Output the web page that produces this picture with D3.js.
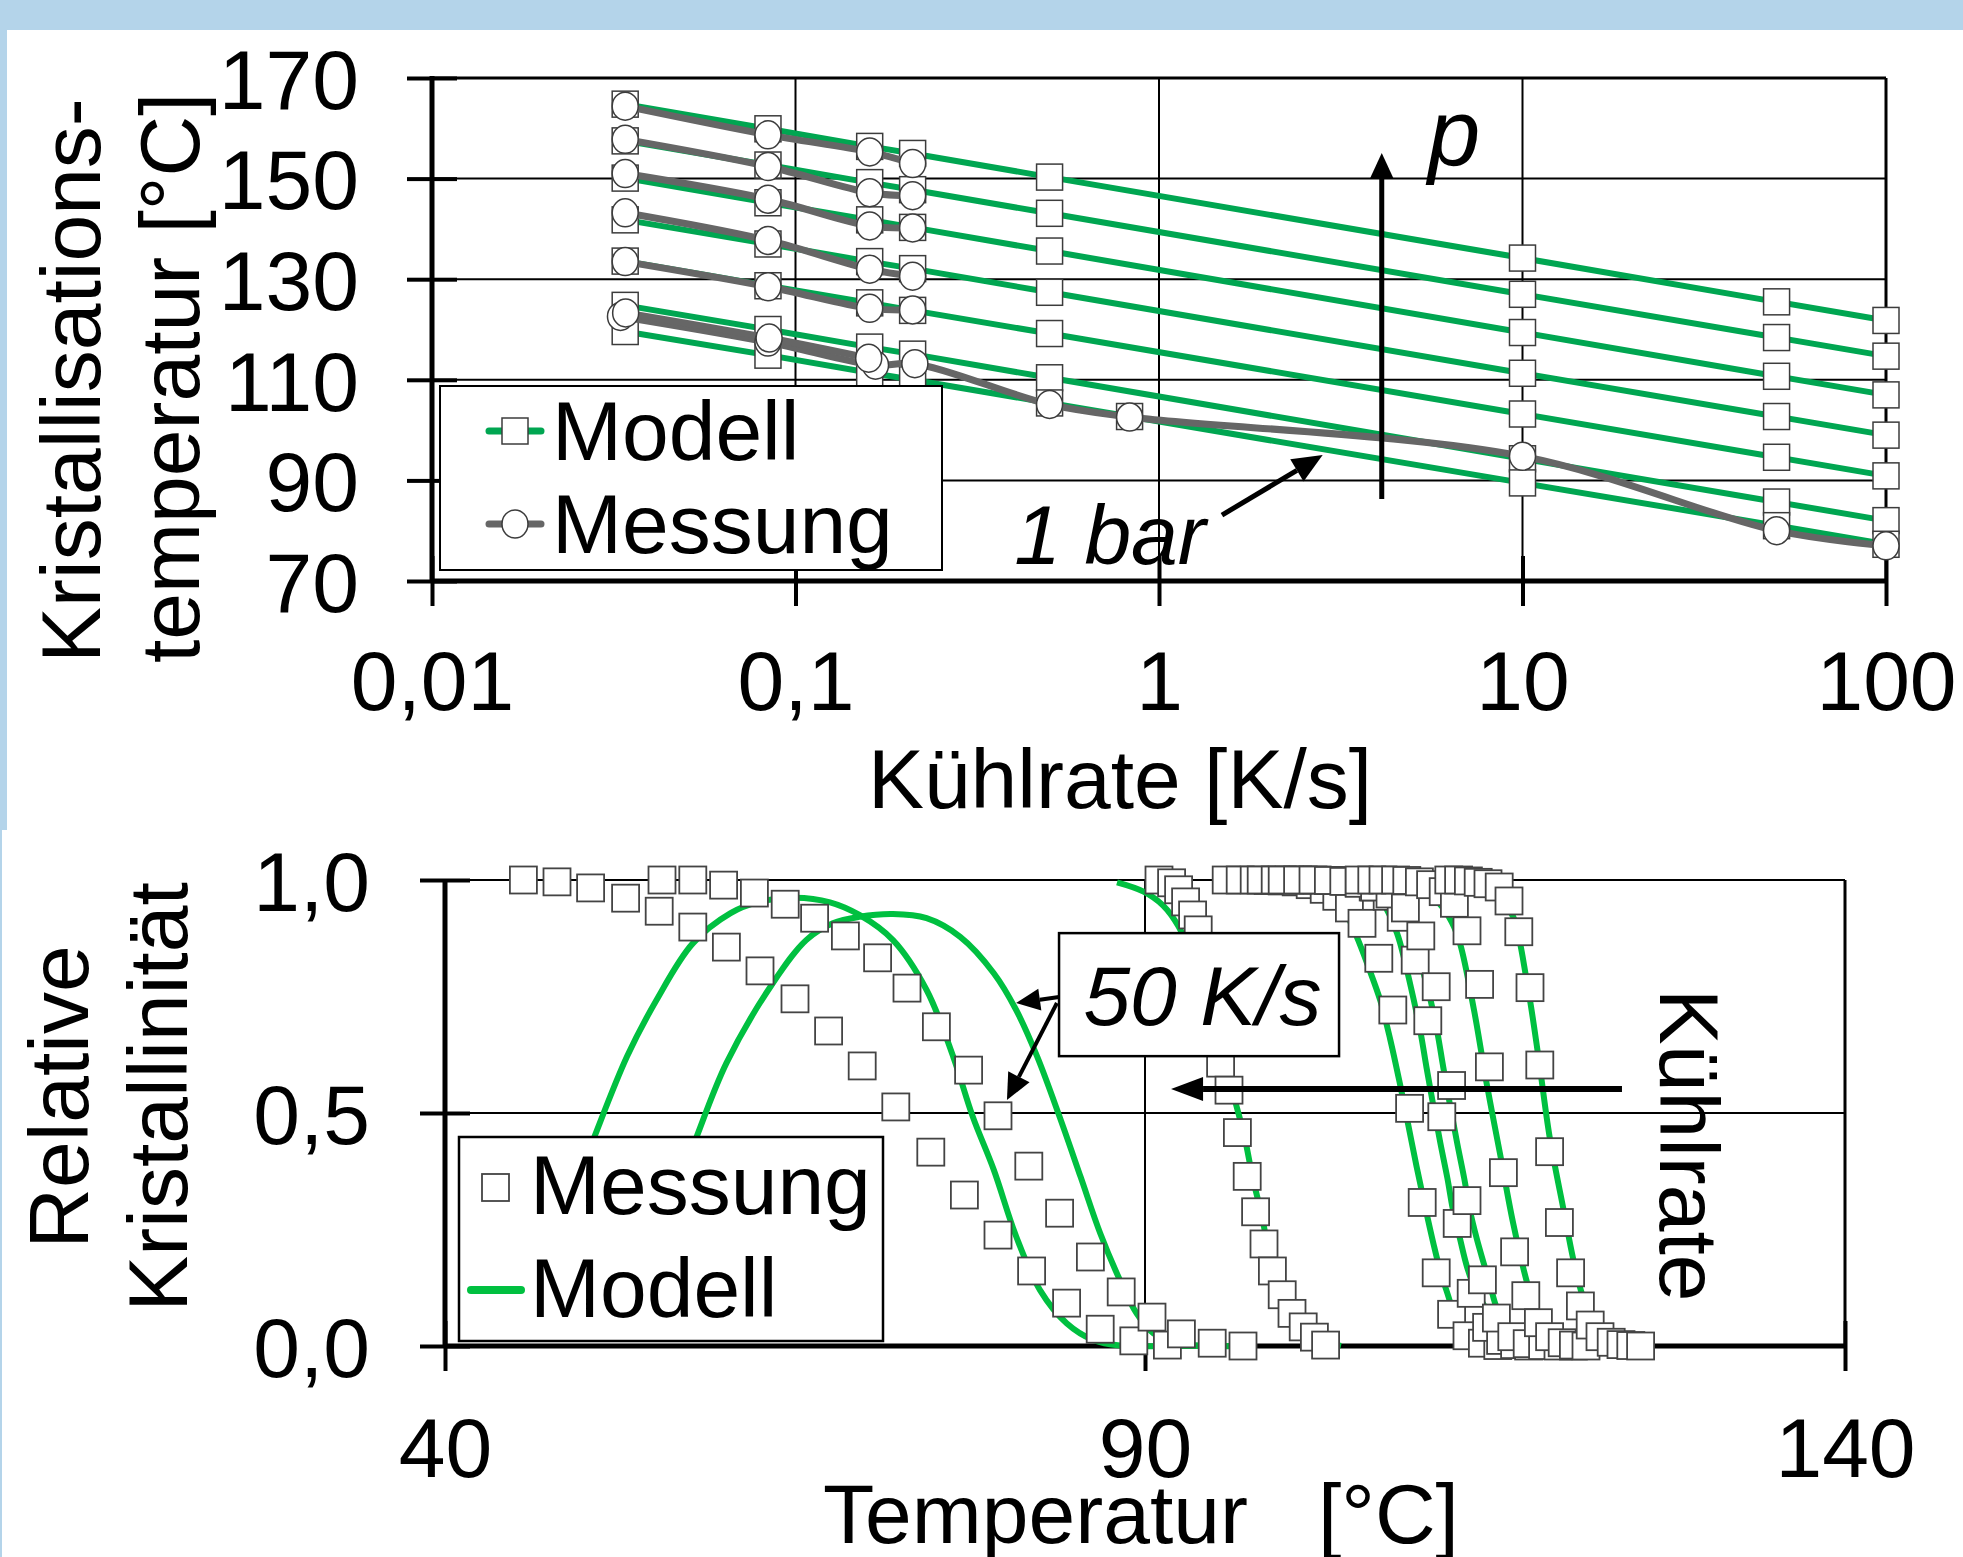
<!DOCTYPE html>
<html>
<head>
<meta charset="utf-8">
<script src="https://cdn.jsdelivr.net/npm/d3@7"></script>
<style>
body { margin: 0; background: #fff; }
text { font-family: "Liberation Sans", Arial, sans-serif; font-size: 84px; fill: #000; }
</style>
</head>
<body>
<div id="chart"></div>
<script>
// ---------- upper chart: Kühlrate vs. Kristallisationstemperatur ----------
var rateTicks = [0.01, 0.1, 1, 10, 100];
var rateLabels = ["0,01", "0,1", "1", "10", "100"];
var tcTicks = [70, 90, 110, 130, 150, 170];

// model lines, one per pressure (top = highest p)
var modelRates = [0.034, 0.084, 0.16, 0.21, 0.5, 10, 50, 100];
var modelP6 = [164.8, 159.9, 156.4, 155.0, 150.3, 134.2, 125.5, 121.8];
var modelP5 = [157.5, 152.7, 149.2, 147.8, 143.1, 127.0, 118.4, 114.7];
var modelP4 = [150.1, 145.2, 141.8, 140.3, 135.6, 119.4, 110.7, 107.0];
var modelP3 = [141.8, 137.0, 133.5, 132.1, 127.4, 111.3, 102.7, 99.0];
var modelP2 = [133.6, 128.7, 125.3, 123.8, 119.2, 103.2, 94.6, 90.9];
var modelP1 = [124.8, 120.0, 116.5, 115.1, 110.4, 94.3, 85.7, 82.0];
var model1barRates = [0.034, 0.084, 0.16, 0.21, 0.5, 0.83, 10, 50, 100];
var model1bar = [119.6, 114.9, 111.4, 110.0, 105.4, 102.7, 89.5, 81.0, 77.3];

// measurements
var messRates = [0.034, 0.084, 0.16, 0.21];
var messP6 = [164.4, 158.7, 155.3, 153.0];
var messP5 = [157.8, 152.4, 147.2, 146.6];
var messP4 = [151.0, 145.9, 140.6, 140.2];
var messP3 = [143.2, 137.7, 132.0, 130.6];
var messP2 = [133.5, 128.5, 124.2, 123.9];
var mess1barRates = [0.033, 0.084, 0.166, 0.213, 0.5, 0.83, 10, 50, 100];
var mess1bar = [122.6, 117.5, 112.9, 113.2, 105.1, 102.6, 94.8, 80.0, 77.0];
var mess1barRepRates = [0.0341, 0.0846, 0.159];
var mess1barRep = [123.3, 118.3, 114.3];

// ---------- lower chart: Temperatur vs. relative Kristallinität ----------
var tempTicks = [40, 90, 140];
var relTicks = [0, 0.5, 1];
var relLabels = ["0,0", "0,5", "1,0"];

var messA = [[45.6,1.0],[48.0,0.996],[50.4,0.983],[52.9,0.961],[55.3,0.933],[57.7,0.899],[60.1,0.856],[62.5,0.805],[65.0,0.745],[67.4,0.676],[69.8,0.601],[72.2,0.513],[74.7,0.416],[77.1,0.324],[79.5,0.238],[81.9,0.161],[84.4,0.092],[86.8,0.036],[89.2,0.011],[91.6,0.002]];
var messB = [[55.5,1.0],[57.7,1.0],[59.9,0.989],[62.1,0.972],[64.3,0.948],[66.4,0.918],[68.6,0.880],[70.9,0.833],[73.0,0.768],[75.1,0.685],[77.4,0.592],[79.5,0.494],[81.7,0.386],[83.9,0.285],[86.1,0.191],[88.3,0.116],[90.5,0.062],[92.6,0.026],[94.8,0.006],[97.0,0.0]];
var messC = [[91.0,1.0],[91.9,0.994],[92.4,0.979],[92.9,0.953],[93.4,0.925],[93.8,0.893],[94.3,0.82],[94.9,0.72],[95.4,0.607],[96.0,0.549],[96.6,0.458],[97.3,0.364],[97.9,0.288],[98.5,0.219],[99.1,0.161],[99.8,0.110],[100.5,0.070],[101.3,0.041],[102.1,0.019],[102.9,0.002]];
var messD = [[95.8,1.0],[96.8,1.0],[97.8,1.0],[98.8,0.999],[99.8,0.998],[100.8,0.996],[101.8,0.99],[102.8,0.98],[103.7,0.965],[104.6,0.94],[105.5,0.907],[106.7,0.832],[107.7,0.721],[108.9,0.510],[109.8,0.308],[110.8,0.157],[111.9,0.068],[113.0,0.022],[114.1,0.006],[115.2,0.001]];
var messE = [[98.3,1.0],[99.3,1.0],[100.3,1.0],[101.3,1.0],[102.3,1.0],[103.3,0.999],[104.3,0.998],[105.3,0.994],[106.3,0.985],[107.3,0.965],[108.3,0.92],[109.3,0.828],[110.2,0.698],[111.2,0.492],[112.3,0.263],[113.3,0.113],[114.4,0.04],[115.4,0.012],[116.4,0.003],[117.4,0.0]];
var messF = [[99.8,1.0],[100.9,1.0],[102.0,1.0],[103.1,0.999],[104.2,0.997],[105.3,0.993],[106.4,0.985],[107.5,0.97],[108.6,0.94],[109.7,0.88],[110.8,0.771],[111.9,0.559],[113.0,0.312],[114.1,0.142],[115.1,0.06],[116.2,0.02],[117.3,0.005],[118.4,0.001],[119.5,0.0],[120.6,0.0]];
var messG = [[105.3,1.0],[106.2,1.0],[107.0,1.0],[107.9,1.0],[108.7,0.999],[109.6,0.996],[110.4,0.99],[111.3,0.975],[112.1,0.95],[113.0,0.891],[113.9,0.776],[114.6,0.599],[115.6,0.372],[116.4,0.202],[117.2,0.108],[118.1,0.05],[118.9,0.02],[119.8,0.007],[120.6,0.002],[121.5,0.0]];
var messH = [[111.7,1.0],[112.4,1.0],[113.1,0.998],[113.8,0.995],[114.5,0.992],[115.3,0.985],[116.0,0.955],[116.7,0.889],[117.5,0.769],[118.2,0.603],[118.9,0.417],[119.6,0.265],[120.4,0.157],[121.1,0.086],[121.8,0.045],[122.5,0.02],[123.3,0.008],[124.0,0.003],[124.7,0.001],[125.4,0.0]];

var modelA = [[50.3,0.42],[50.7,0.451],[53.0,0.621],[55.1,0.742],[57.7,0.864],[60.4,0.929],[62.3,0.952],[65.0,0.962],[67.5,0.952],[69.6,0.925],[72.0,0.871],[74.4,0.764],[76.3,0.621],[77.7,0.492],[79.2,0.378],[80.8,0.235],[82.5,0.120],[84.4,0.049],[86.3,0.013],[88.2,0.001],[92.0,0.0],[96.0,0.0]];
var modelB = [[57.6,0.42],[58.0,0.451],[60.1,0.607],[63.4,0.778],[65.8,0.871],[67.7,0.907],[69.6,0.921],[72.0,0.927],[74.4,0.918],[76.8,0.878],[79.2,0.800],[80.8,0.721],[82.3,0.621],[83.9,0.492],[85.4,0.363],[86.8,0.242],[88.2,0.142],[89.4,0.070],[90.6,0.027],[92.3,0.006],[94.6,0.0],[96.5,0.0]];
var modelC = [[88.0,0.995],[89.9,0.975],[91.3,0.945],[92.4,0.90],[93.4,0.83],[94.3,0.75],[95.1,0.67],[95.9,0.59],[96.4,0.53],[97.1,0.45],[97.7,0.36],[98.3,0.285],[98.9,0.20],[99.9,0.11],[101.1,0.048],[102.7,0.013],[104.0,0.0]];
var modelD = [[102.0,0.998],[103.0,0.985],[104.0,0.95],[105.1,0.88],[106.0,0.81],[106.8,0.742],[107.5,0.66],[108.2,0.564],[108.8,0.475],[109.4,0.385],[110.0,0.30],[110.6,0.220],[111.1,0.16],[111.6,0.113],[112.2,0.06],[113.0,0.02],[114.0,0.003]];
var modelE = [[104.5,0.998],[105.8,0.985],[107.0,0.95],[108.0,0.886],[108.6,0.82],[109.2,0.742],[109.7,0.67],[110.1,0.599],[110.6,0.515],[111.1,0.435],[111.6,0.36],[112.0,0.292],[112.5,0.23],[113.0,0.170],[113.6,0.12],[114.2,0.088],[115.0,0.045],[116.0,0.015],[117.0,0.003]];
var modelF = [[105.5,0.998],[106.8,0.985],[108.2,0.94],[109.4,0.857],[109.9,0.80],[110.4,0.742],[110.9,0.67],[111.3,0.599],[111.8,0.515],[112.3,0.435],[112.8,0.36],[113.2,0.292],[113.7,0.23],[114.2,0.177],[114.7,0.125],[115.1,0.084],[115.9,0.04],[116.8,0.012],[118.0,0.002]];
var modelG = [[108.0,0.998],[109.5,0.985],[111.0,0.95],[111.9,0.91],[112.5,0.864],[113.5,0.721],[114.4,0.564],[115.4,0.406],[116.3,0.263],[117.3,0.135],[118.0,0.07],[118.8,0.03],[119.8,0.008],[121.0,0.0]];
var modelH = [[111.5,0.998],[113.0,0.99],[114.6,0.97],[115.6,0.95],[116.3,0.921],[117.3,0.778],[118.1,0.621],[118.9,0.449],[119.9,0.292],[120.6,0.185],[121.2,0.113],[121.9,0.06],[122.8,0.025],[124.0,0.005],[125.5,0.0]];

var blue = "#b4d4ea";
var greenTop = "#00a651";
var greenBottom = "#00c040";
var grayLine = "#666666";
var markStroke = "#3c3c3c";

var W = 1963, H = 1557;
var svg = d3.select("#chart").append("svg")
  .attr("width", W)
  .attr("height", H);

// light blue slide frame
svg.append("rect").attr("width", W).attr("height", H).attr("fill", "#fff");
svg.append("rect").attr("width", W).attr("height", 30).attr("fill", blue);
svg.append("rect").attr("width", 7).attr("height", 830).attr("fill", blue);
svg.append("rect").attr("y", 830).attr("width", 2).attr("height", H - 830).attr("fill", blue);

function arrow(g, xa, ya, xb, yb, w, len, half) {
  var a = Math.atan2(yb - ya, xb - xa);
  var bx = xb - len * Math.cos(a), by = yb - len * Math.sin(a);
  var px = -Math.sin(a) * half, py = Math.cos(a) * half;
  g.append("line")
    .attr("x1", xa).attr("y1", ya).attr("x2", bx).attr("y2", by)
    .attr("stroke", "#000").attr("stroke-width", w);
  g.append("path")
    .attr("d", "M" + xb + "," + yb + "L" + (bx + px) + "," + (by + py) + "L" + (bx - px) + "," + (by - py) + "Z")
    .attr("fill", "#000");
}

function styleTicks(sel) {
  sel.select(".domain").remove();
  sel.selectAll(".tick line").attr("stroke", "#000").attr("stroke-width", 4);
}

// =================== upper chart ===================
var x1 = d3.scaleLog().domain([0.01, 100]).range([432, 1886]);
var y1 = d3.scaleLinear().domain([70, 170]).range([581, 78]);
var gTop = svg.append("g");

// grid
gTop.selectAll(".hgrid").data(tcTicks.slice(1)).enter().append("line")
  .attr("x1", x1(0.01)).attr("x2", x1(100))
  .attr("y1", d => y1(d)).attr("y2", d => y1(d))
  .attr("stroke", "#000").attr("stroke-width", d => d === 170 ? 3 : 2);
gTop.selectAll(".vgrid").data(rateTicks.slice(1)).enter().append("line")
  .attr("x1", d => x1(d)).attr("x2", d => x1(d))
  .attr("y1", y1(170)).attr("y2", y1(70))
  .attr("stroke", "#000").attr("stroke-width", d => d === 100 ? 3 : 2);

// axes
var yAx1 = gTop.append("g").attr("transform", "translate(" + x1(0.01) + ",0)");
yAx1.call(d3.axisLeft(y1).tickValues(tcTicks).tickSize(25).tickPadding(48).tickFormat(d => d));
yAx1.call(styleTicks);
yAx1.selectAll(".tick text").attr("dy", "0.36em");
gTop.append("g").attr("transform", "translate(" + x1(0.01) + ",0)")
  .call(d3.axisRight(y1).tickValues(tcTicks).tickSize(25).tickFormat(""))
  .call(styleTicks);

var xAx1 = gTop.append("g").attr("transform", "translate(0," + y1(70) + ")");
xAx1.call(d3.axisBottom(x1).tickValues(rateTicks).tickSize(25).tickPadding(44).tickFormat((d, i) => rateLabels[i]));
xAx1.call(styleTicks);
gTop.append("g").attr("transform", "translate(0," + y1(70) + ")")
  .call(d3.axisTop(x1).tickValues(rateTicks).tickSize(25).tickFormat(""))
  .call(styleTicks);

gTop.append("line").attr("x1", x1(0.01)).attr("x2", x1(0.01)).attr("y1", y1(170) - 2).attr("y2", y1(70))
  .attr("stroke", "#000").attr("stroke-width", 5);
gTop.append("line").attr("x1", x1(0.01)).attr("x2", x1(100)).attr("y1", y1(70)).attr("y2", y1(70))
  .attr("stroke", "#000").attr("stroke-width", 5);

// series
var line1 = d3.line().x(d => x1(d[0])).y(d => y1(d[1]));
var smooth1 = d3.line().x(d => x1(d[0])).y(d => y1(d[1])).curve(d3.curveCatmullRom.alpha(0.5));

var models = [
  d3.zip(modelRates, modelP6), d3.zip(modelRates, modelP5), d3.zip(modelRates, modelP4),
  d3.zip(modelRates, modelP3), d3.zip(modelRates, modelP2), d3.zip(modelRates, modelP1),
  d3.zip(model1barRates, model1bar)
];
var messes = [
  d3.zip(messRates, messP6), d3.zip(messRates, messP5), d3.zip(messRates, messP4),
  d3.zip(messRates, messP3), d3.zip(messRates, messP2),
  d3.zip(mess1barRates, mess1bar), d3.zip(mess1barRepRates, mess1barRep)
];

models.forEach(function(s) {
  gTop.append("path").attr("d", line1(s))
    .attr("fill", "none").attr("stroke", greenTop).attr("stroke-width", 6);
});
models.forEach(function(s) {
  gTop.selectAll(null).data(s).enter().append("rect")
    .attr("x", d => x1(d[0]) - 13).attr("y", d => y1(d[1]) - 13)
    .attr("width", 26).attr("height", 26)
    .attr("fill", "#fff").attr("stroke", markStroke).attr("stroke-width", 1.5);
});
messes.forEach(function(s) {
  gTop.append("path").attr("d", smooth1(s))
    .attr("fill", "none").attr("stroke", grayLine).attr("stroke-width", 7);
});
messes.forEach(function(s) {
  gTop.selectAll(null).data(s).enter().append("ellipse")
    .attr("cx", d => x1(d[0])).attr("cy", d => y1(d[1]))
    .attr("rx", 13).attr("ry", 14)
    .attr("fill", "#fff").attr("stroke", markStroke).attr("stroke-width", 1.5);
});

// annotations
arrow(gTop, x1(4.1), y1(86.3), x1(4.1), y1(155.1), 5, 26, 12);
gTop.append("text").attr("x", x1(5.5)).attr("y", y1(152.7))
  .style("font-style", "italic").style("font-size", "94px").text("p");
arrow(gTop, x1(1.49), y1(83.1), x1(2.82), y1(95.05), 5, 30, 13);
gTop.append("text").attr("x", x1(0.40)).attr("y", y1(73.4)).style("font-style", "italic").text("1 bar");

// legend
var lg1 = gTop.append("g");
lg1.append("rect").attr("x", 440).attr("y", 386).attr("width", 502).attr("height", 184)
  .attr("fill", "#fff").attr("stroke", "#000").attr("stroke-width", 2);
lg1.append("line").attr("x1", 489).attr("x2", 541).attr("y1", 431).attr("y2", 431)
  .attr("stroke", greenTop).attr("stroke-width", 7).attr("stroke-linecap", "round");
lg1.append("rect").attr("x", 502).attr("y", 418).attr("width", 26).attr("height", 26)
  .attr("fill", "#fff").attr("stroke", markStroke).attr("stroke-width", 1.5);
lg1.append("text").attr("x", 552).attr("y", 460).text("Modell");
lg1.append("line").attr("x1", 489).attr("x2", 541).attr("y1", 524).attr("y2", 524)
  .attr("stroke", grayLine).attr("stroke-width", 7).attr("stroke-linecap", "round");
lg1.append("ellipse").attr("cx", 515).attr("cy", 524).attr("rx", 13).attr("ry", 14)
  .attr("fill", "#fff").attr("stroke", markStroke).attr("stroke-width", 1.5);
lg1.append("text").attr("x", 552).attr("y", 553).text("Messung");

// titles
gTop.append("text").attr("transform", "translate(100,663) rotate(-90)").text("Kristallisations-");
gTop.append("text").attr("transform", "translate(199,663) rotate(-90)").text("temperatur [°C]");
gTop.append("text").attr("x", 1120).attr("y", 808).attr("text-anchor", "middle").text("Kühlrate [K/s]");

// =================== lower chart ===================
var x2 = d3.scaleLinear().domain([40, 140]).range([445, 1845]);
var y2 = d3.scaleLinear().domain([0, 1]).range([1346, 880]);
var gBot = svg.append("g");

gBot.selectAll(".hgrid").data([0.5, 1]).enter().append("line")
  .attr("x1", x2(40)).attr("x2", x2(140))
  .attr("y1", d => y2(d)).attr("y2", d => y2(d))
  .attr("stroke", "#000").attr("stroke-width", 2);
gBot.selectAll(".vgrid").data([90, 140]).enter().append("line")
  .attr("x1", d => x2(d)).attr("x2", d => x2(d))
  .attr("y1", y2(1)).attr("y2", y2(0))
  .attr("stroke", "#000").attr("stroke-width", d => d === 140 ? 3 : 2);

var yAx2 = gBot.append("g").attr("transform", "translate(" + x2(40) + ",0)");
yAx2.call(d3.axisLeft(y2).tickValues(relTicks).tickSize(25).tickPadding(50).tickFormat((d, i) => relLabels[i]));
yAx2.call(styleTicks);
yAx2.selectAll(".tick text").attr("dy", "0.36em");
gBot.append("g").attr("transform", "translate(" + x2(40) + ",0)")
  .call(d3.axisRight(y2).tickValues(relTicks).tickSize(25).tickFormat(""))
  .call(styleTicks);

var xAx2 = gBot.append("g").attr("transform", "translate(0," + y2(0) + ")");
xAx2.call(d3.axisBottom(x2).tickValues(tempTicks).tickSize(25).tickPadding(46).tickFormat(d => d));
xAx2.call(styleTicks);
gBot.append("g").attr("transform", "translate(0," + y2(0) + ")")
  .call(d3.axisTop(x2).tickValues(tempTicks).tickSize(25).tickFormat(""))
  .call(styleTicks);

gBot.append("line").attr("x1", x2(40)).attr("x2", x2(40)).attr("y1", y2(1)).attr("y2", y2(0))
  .attr("stroke", "#000").attr("stroke-width", 5);
gBot.append("line").attr("x1", x2(40)).attr("x2", x2(140)).attr("y1", y2(0)).attr("y2", y2(0))
  .attr("stroke", "#000").attr("stroke-width", 5);

var smooth2 = d3.line().x(d => x2(d[0])).y(d => y2(d[1])).curve(d3.curveCatmullRom.alpha(0.5));
[modelA, modelB, modelC, modelD, modelE, modelF, modelG, modelH].forEach(function(s) {
  gBot.append("path").attr("d", smooth2(s))
    .attr("fill", "none").attr("stroke", greenBottom).attr("stroke-width", 6);
});
[messA, messB, messC, messD, messE, messF, messG, messH].forEach(function(s) {
  gBot.selectAll(null).data(s).enter().append("rect")
    .attr("x", d => x2(d[0]) - 13.5).attr("y", d => y2(d[1]) - 13.5)
    .attr("width", 27).attr("height", 27)
    .attr("fill", "#fff").attr("stroke", "#444").attr("stroke-width", 1.8);
});

// "50 K/s" callout
gBot.append("rect").attr("x", x2(83.86)).attr("y", y2(0.886))
  .attr("width", x2(103.86) - x2(83.86)).attr("height", y2(0.622) - y2(0.886))
  .attr("fill", "#fff").attr("stroke", "#000").attr("stroke-width", 2.5);
gBot.append("text").attr("x", x2(85.6)).attr("y", y2(0.689)).style("font-style", "italic").text("50 K/s");
arrow(gBot, x2(83.86), y2(0.749), x2(80.79), y2(0.736), 4, 24, 11);
arrow(gBot, x2(83.71), y2(0.736), x2(80.14), y2(0.528), 4, 26, 12);

// Kühlrate arrow
arrow(gBot, x2(124.07), y2(0.5515), x2(91.86), y2(0.5515), 6, 32, 12);
gBot.append("text").attr("transform", "translate(" + x2(126.8) + "," + y2(0.431) + ") rotate(90)")
  .attr("text-anchor", "middle").text("Kühlrate");

// legend
var lg2 = gBot.append("g");
lg2.append("rect").attr("x", 459).attr("y", 1137).attr("width", 424).attr("height", 204)
  .attr("fill", "#fff").attr("stroke", "#000").attr("stroke-width", 2.5);
lg2.append("rect").attr("x", 482).attr("y", 1174).attr("width", 27).attr("height", 27)
  .attr("fill", "#fff").attr("stroke", "#444").attr("stroke-width", 1.8);
lg2.append("text").attr("x", 530).attr("y", 1214).text("Messung");
lg2.append("line").attr("x1", 471).attr("x2", 521).attr("y1", 1290).attr("y2", 1290)
  .attr("stroke", greenBottom).attr("stroke-width", 8).attr("stroke-linecap", "round");
lg2.append("text").attr("x", 530).attr("y", 1317).text("Modell");

// titles
gBot.append("text").attr("transform", "translate(88,1097) rotate(-90)").attr("text-anchor", "middle").text("Relative");
gBot.append("text").attr("transform", "translate(187,1097) rotate(-90)").attr("text-anchor", "middle").text("Kristallinität");
gBot.append("text").attr("x", 1141).attr("y", 1543).attr("text-anchor", "middle")
  .style("white-space", "pre").text("Temperatur   [°C]");
</script>
</body>
</html>
